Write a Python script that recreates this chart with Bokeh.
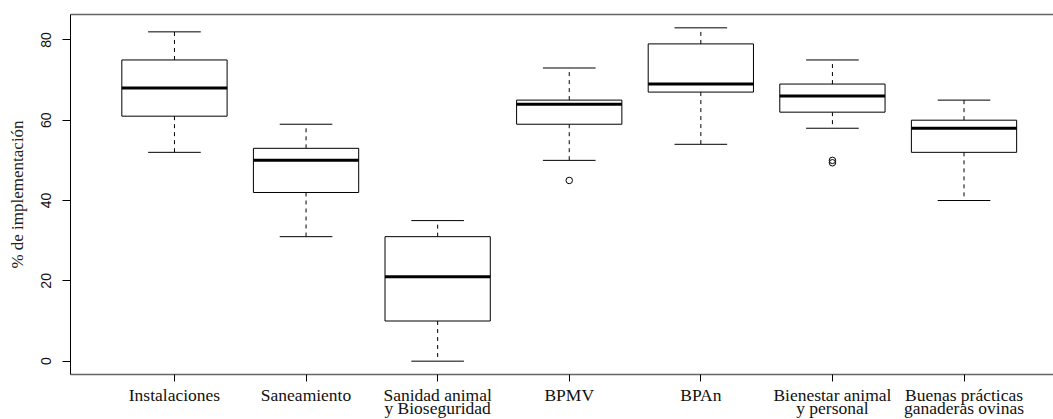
from bokeh.plotting import figure
from bokeh.models import Range1d, LinearAxis, FixedTicker, ColumnDataSource
from bokeh.embed import file_html
from bokeh.resources import INLINE

# ---- data ----
categories_line1 = ["Instalaciones", "Saneamiento", "Sanidad animal", "BPMV", "BPAn",
                    "Bienestar animal", "Buenas prácticas"]
categories_line2 = ["", "", "y Bioseguridad", "", "", "y personal", "ganaderas ovinas"]
positions = [1, 2, 3, 4, 5, 6, 7]
whisker_low = [52, 31, 0, 50, 54, 58, 40]
q1 = [61, 42, 10, 59, 67, 62, 52]
median = [68, 50, 21, 64, 69, 66, 58]
q3 = [75, 53, 31, 65, 79, 69, 60]
whisker_high = [82, 59, 35, 73, 83, 75, 65]
outlier_pos = [4, 6, 6]
outlier_val = [45, 49.4, 50.0]
y_ticks = [0, 20, 40, 60, 80]

BOX_W = 0.8
CAP_W = 0.4

src = ColumnDataSource(dict(
    x=positions, lo=whisker_low, q1=q1, med=median, q3=q3, hi=whisker_high,
    bx0=[p - BOX_W / 2 for p in positions], bx1=[p + BOX_W / 2 for p in positions],
    cx0=[p - CAP_W / 2 for p in positions], cx1=[p + CAP_W / 2 for p in positions],
))

p = figure(frame_width=983, frame_height=360,
           x_range=Range1d(0.21, 7.68), y_range=Range1d(-3.32, 86.32),
           output_backend="svg", toolbar_location=None,
           min_border_left=70, min_border_top=14, min_border_right=0, min_border_bottom=0,
           x_axis_location=None, y_axis_location=None)
p.outline_line_color = None
p.xgrid.visible = False
p.ygrid.visible = False
p.background_fill_color = "white"
p.border_fill_color = "white"

# whiskers (dashed)
p.segment(x0="x", y0="q3", x1="x", y1="hi", source=src, line_color="black",
          line_width=1, line_dash="4 4")
p.segment(x0="x", y0="q1", x1="x", y1="lo", source=src, line_color="black",
          line_width=1, line_dash="4 4")
# caps
p.segment(x0="cx0", y0="hi", x1="cx1", y1="hi", source=src, line_color="black", line_width=1)
p.segment(x0="cx0", y0="lo", x1="cx1", y1="lo", source=src, line_color="black", line_width=1)
# boxes
p.vbar(x="x", width=BOX_W, bottom="q1", top="q3", source=src,
       fill_color="white", line_color="black", line_width=1)
# medians
p.segment(x0="bx0", y0="med", x1="bx1", y1="med", source=src, line_color="black", line_width=3)
# outliers
p.scatter(x=outlier_pos, y=outlier_val, marker="circle", size=6.5,
          fill_color=None, line_color="black", line_width=1)

serif = "Liberation Serif"
sans = "Liberation Sans"

# left axis
yax = LinearAxis(ticker=FixedTicker(ticks=y_ticks))
yax.axis_line_color = "black"
yax.axis_line_width = 1
yax.major_tick_in = 0
yax.major_tick_out = 8
yax.minor_tick_line_color = None
yax.major_label_orientation = "vertical"
yax.major_label_text_font = sans
yax.major_label_text_font_size = "14px"
yax.major_label_text_color = "#111111"
yax.major_label_standoff = 11
yax.axis_label = "% de implementación"
yax.axis_label_text_font = serif
yax.axis_label_text_font_size = "17px"
yax.axis_label_text_font_style = "normal"
yax.axis_label_text_color = "#222222"
yax.axis_label_standoff = 12
p.add_layout(yax, "left")

# bottom axis: first label lines
xax = LinearAxis(ticker=FixedTicker(ticks=positions))
xax.major_label_overrides = {pos: lab for pos, lab in zip(positions, categories_line1)}
xax.axis_line_color = "#666666"
xax.axis_line_width = 1.5
xax.major_tick_in = 0
xax.major_tick_out = 7
xax.major_tick_line_color = "black"
xax.minor_tick_line_color = None
xax.major_label_text_font = serif
xax.major_label_text_font_size = "17.5px"
xax.major_label_text_color = "#111111"
xax.major_label_standoff = 3
p.add_layout(xax, "below")

# bottom axis: second label lines
xax2 = LinearAxis(ticker=FixedTicker(ticks=positions))
xax2.major_label_overrides = {pos: lab for pos, lab in zip(positions, categories_line2)}
xax2.axis_line_color = None
xax2.major_tick_line_color = None
xax2.major_tick_in = 0
xax2.major_tick_out = 0
xax2.minor_tick_line_color = None
xax2.major_label_text_font = serif
xax2.major_label_text_font_size = "17.5px"
xax2.major_label_text_color = "#111111"
xax2.major_label_standoff = -10
p.add_layout(xax2, "below")

# top border line
tax = LinearAxis(ticker=FixedTicker(ticks=[]))
tax.axis_line_color = "#666666"
tax.axis_line_width = 1.5
tax.major_tick_in = 0
tax.major_tick_out = 0
tax.minor_tick_line_color = None
tax.major_label_standoff = 0
tax.major_label_text_font_size = "0px"
p.add_layout(tax, "above")

open("out.html", "w").write(file_html(p, INLINE))
